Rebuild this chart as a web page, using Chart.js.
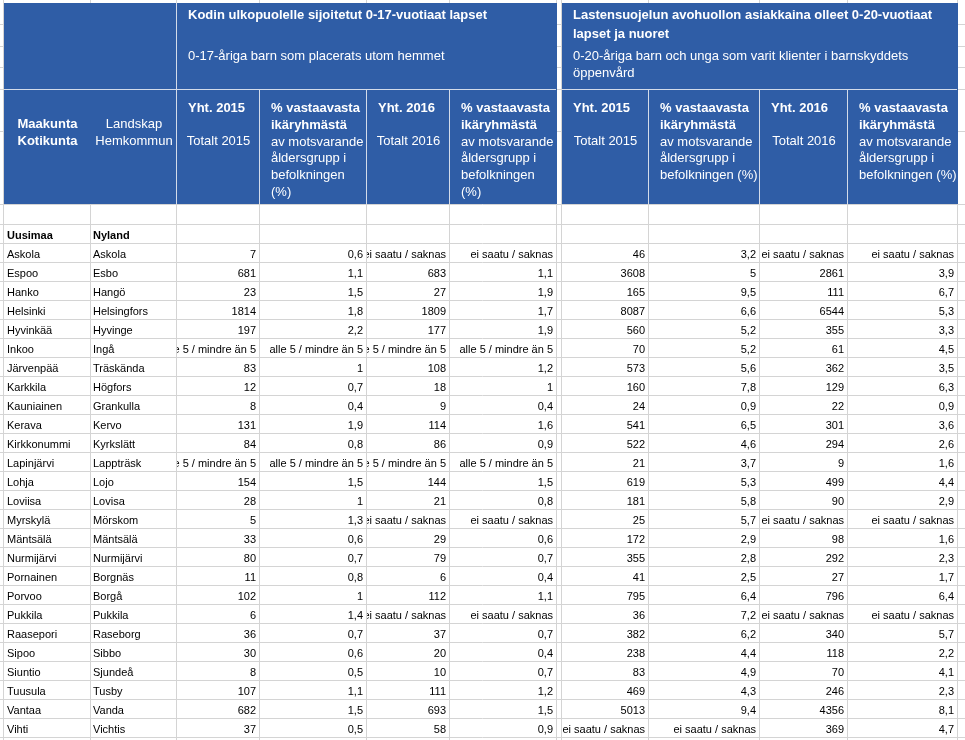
<!DOCTYPE html>
<html>
<head>
<meta charset="utf-8">
<title>Kodin ulkopuolelle sijoitetut ja avohuollon lapset - Uusimaa</title>
<script src="https://cdn.jsdelivr.net/npm/chart.js@4.4.1/dist/chart.umd.min.js"></script>
<style>
  body { margin: 0; background: #fff; overflow: hidden; }
  #wrap { width: 965px; height: 740px; }
</style>
</head>
<body>
<div id="wrap"><canvas id="sheet" width="965" height="740"></canvas></div>
<script>
var NA = "ei saatu / saknas";
var LT5 = "alle 5 / mindre än 5";

// region row
var maakunta = "Uusimaa";
var landskap = "Nyland";

// municipalities (fi / sv)
var kunnat = ["Askola","Espoo","Hanko","Helsinki","Hyvinkää","Inkoo","Järvenpää","Karkkila","Kauniainen","Kerava","Kirkkonummi","Lapinjärvi","Lohja","Loviisa","Myrskylä","Mäntsälä","Nurmijärvi","Pornainen","Porvoo","Pukkila","Raasepori","Sipoo","Siuntio","Tuusula","Vantaa","Vihti"];
var kommuner = ["Askola","Esbo","Hangö","Helsingfors","Hyvinge","Ingå","Träskända","Högfors","Grankulla","Kervo","Kyrkslätt","Lappträsk","Lojo","Lovisa","Mörskom","Mäntsälä","Nurmijärvi","Borgnäs","Borgå","Pukkila","Raseborg","Sibbo","Sjundeå","Tusby","Vanda","Vichtis"];

// placed outside home, 0-17
var sijoitetut2015 = [7,681,23,1814,197,LT5,83,12,8,131,84,LT5,154,28,5,33,80,11,102,6,36,30,8,107,682,37];
var sijoitetutPros2015 = [0.6,1.1,1.5,1.8,2.2,LT5,1,0.7,0.4,1.9,0.8,LT5,1.5,1,1.3,0.6,0.7,0.8,1,1.4,0.7,0.6,0.5,1.1,1.5,0.5];
var sijoitetut2016 = [NA,683,27,1809,177,LT5,108,18,9,114,86,LT5,144,21,NA,29,79,6,112,NA,37,20,10,111,693,58];
var sijoitetutPros2016 = [NA,1.1,1.9,1.7,1.9,LT5,1.2,1,0.4,1.6,0.9,LT5,1.5,0.8,NA,0.6,0.7,0.4,1.1,NA,0.7,0.4,0.7,1.2,1.5,0.9];

// open care clients, 0-20
var avohuolto2015 = [46,3608,165,8087,560,70,573,160,24,541,522,21,619,181,25,172,355,41,795,36,382,238,83,469,5013,NA];
var avohuoltoPros2015 = [3.2,5,9.5,6.6,5.2,5.2,5.6,7.8,0.9,6.5,4.6,3.7,5.3,5.8,5.7,2.9,2.8,2.5,6.4,7.2,6.2,4.4,4.9,4.3,9.4,NA];
var avohuolto2016 = [NA,2861,111,6544,355,61,362,129,22,301,294,9,499,90,NA,98,292,27,796,NA,340,118,70,246,4356,369];
var avohuoltoPros2016 = [NA,3.9,6.7,5.3,3.3,4.5,3.5,6.3,0.9,3.6,2.6,1.6,4.4,2.9,NA,1.6,2.3,1.7,6.4,NA,5.7,2.2,4.1,2.3,8.1,4.7];

// header texts
var otsikko1 = ["Kodin ulkopuolelle sijoitetut 0-17-vuotiaat lapset"];
var alaotsikko1 = ["0-17-åriga barn som placerats utom hemmet"];
var otsikko2 = ["Lastensuojelun avohuollon asiakkaina olleet 0-20-vuotiaat", "lapset ja nuoret"];
var alaotsikko2 = ["0-20-åriga barn och unga som varit klienter i barnskyddets", "öppenvård"];
var prosOtsikko1 = ["% vastaavasta", "ikäryhmästä", "av motsvarande", "åldersgrupp i", "befolkningen", "(%)"];
var prosOtsikko2 = ["% vastaavasta", "ikäryhmästä", "av motsvarande", "åldersgrupp i", "befolkningen (%)"];

// sheet layout (x / y in sheet units)
var colEdges = [3, 90, 176, 259, 366, 449, 556, 561, 648, 759, 847, 957];
var headTop = 3, headMid = 89, headBottom = 204, bodyTop = 224, rowH = 19;
var sideLines = [24, 46, 67, 89, 131, 204];

var BLUE = "#2F5DA6";
var GRID = "#D4D4D4";
var SEP = "#D3DBEA";
var FONT = "'Liberation Sans', Arial, sans-serif";

function fmt(v) {
  return typeof v === "number" ? String(v).replace(".", ",") : v;
}

var sheetPlugin = {
  id: "sheetTable",
  afterDraw: function(chart) {
    var ctx = chart.ctx;
    var sx = chart.scales.x, sy = chart.scales.y;
    function X(v) { return Math.round(sx.getPixelForValue(v)); }
    function Y(v) { return Math.round(sy.getPixelForValue(v)); }

    function hline(y, x0, x1, col) {
      ctx.strokeStyle = col; ctx.lineWidth = 1;
      ctx.beginPath(); ctx.moveTo(X(x0), Y(y) + 0.5); ctx.lineTo(X(x1), Y(y) + 0.5); ctx.stroke();
    }
    function vline(x, y0, y1, col) {
      ctx.strokeStyle = col; ctx.lineWidth = 1;
      ctx.beginPath(); ctx.moveTo(X(x) + 0.5, Y(y0)); ctx.lineTo(X(x) + 0.5, Y(y1)); ctx.stroke();
    }
    function text(str, c, baseY, align, font, color, pad) {
      var l = X(colEdges[c]), r = X(colEdges[c + 1]);
      ctx.save();
      ctx.beginPath(); ctx.rect(l + 1, Y(baseY) - 16, r - l - 1, 22); ctx.clip();
      ctx.font = font; ctx.fillStyle = color; ctx.textBaseline = "alphabetic";
      ctx.textAlign = align;
      var xx = align === "right" ? r - pad : align === "center" ? (l + r) / 2 + 1 : l + pad;
      ctx.fillText(str, xx, Y(baseY));
      ctx.restore();
    }
    function freeText(str, x, baseY, font, color) {
      ctx.font = font; ctx.fillStyle = color; ctx.textAlign = "left"; ctx.textBaseline = "alphabetic";
      ctx.fillText(str, X(x), Y(baseY));
    }

    ctx.save();
    ctx.fillStyle = "#fff";
    ctx.fillRect(0, 0, chart.width, chart.height);

    // body grid
    var nRows = kunnat.length + 1;
    var lastEdge = bodyTop + nRows * rowH;
    hline(headBottom, 0, 965, GRID);
    for (var k = 0; k <= nRows; k++) hline(bodyTop + k * rowH, 0, 965, GRID);
    colEdges.forEach(function(e) { vline(e, 0, 740, GRID); });
    sideLines.forEach(function(s) {
      hline(s, 0, colEdges[0], GRID);
      hline(s, colEdges[6], colEdges[7], GRID);
      hline(s, colEdges[11], 965, GRID);
    });

    // blue header blocks
    ctx.fillStyle = BLUE;
    ctx.fillRect(X(colEdges[0]) + 1, Y(headTop), X(colEdges[6]) - X(colEdges[0]), Y(headBottom) - Y(headTop));
    ctx.fillRect(X(colEdges[7]) + 1, Y(headTop), X(colEdges[11]) - X(colEdges[7]), Y(headBottom) - Y(headTop));

    // header separators
    hline(headMid, colEdges[0] + 1, colEdges[6], SEP);
    hline(headMid, colEdges[7] + 1, colEdges[11], SEP);
    vline(colEdges[2], headTop, headBottom, SEP);
    [3, 4, 5, 8, 9, 10].forEach(function(c) { vline(colEdges[c], headMid, headBottom, SEP); });

    var W = "#FFFFFF";
    var hb = "bold 13px " + FONT, hr = "13px " + FONT;

    // header row 1
    freeText(otsikko1[0], colEdges[2] + 12, 19, hb, W);
    freeText(alaotsikko1[0], colEdges[2] + 12, 60, hr, W);
    otsikko2.forEach(function(s, i) { freeText(s, colEdges[7] + 12, 19 + i * 19, hb, W); });
    alaotsikko2.forEach(function(s, i) { freeText(s, colEdges[7] + 12, 60 + i * 17, hr, W); });

    // header row 2
    text("Maakunta", 0, 128, "center", hb, W, 0);
    text("Kotikunta", 0, 145, "center", hb, W, 0);
    text("Landskap", 1, 128, "center", hr, W, 0);
    text("Hemkommun", 1, 145, "center", hr, W, 0);
    [[2, "2015"], [4, "2016"], [7, "2015"], [9, "2016"]].forEach(function(p) {
      freeText("Yht. " + p[1], colEdges[p[0]] + 12, 112, hb, W);
      text("Totalt " + p[1], p[0], 145, "center", hr, W, 0);
    });
    [[3, prosOtsikko1], [5, prosOtsikko1], [8, prosOtsikko2], [10, prosOtsikko2]].forEach(function(p) {
      p[1].forEach(function(s, i) {
        text(s, p[0], 112 + i * 16.8, "left", i < 2 ? hb : hr, W, 12);
      });
    });

    // body
    var bf = "11px " + FONT, bb = "bold 11px " + FONT, K = "#000";
    text(maakunta, 0, bodyTop + 15, "left", bb, K, 4);
    text(landskap, 1, bodyTop + 15, "left", bb, K, 3);
    var series = [sijoitetut2015, sijoitetutPros2015, sijoitetut2016, sijoitetutPros2016,
                  avohuolto2015, avohuoltoPros2015, avohuolto2016, avohuoltoPros2016];
    var seriesCols = [2, 3, 4, 5, 7, 8, 9, 10];
    kunnat.forEach(function(name, i) {
      var base = bodyTop + (i + 1) * rowH + 15;
      text(name, 0, base, "left", bf, K, 4);
      text(kommuner[i], 1, base, "left", bf, K, 3);
      series.forEach(function(s, j) {
        text(fmt(s[i]), seriesCols[j], base, "right", bf, K, 3);
      });
    });
    ctx.restore();
  }
};

new Chart(document.getElementById("sheet"), {
  type: "scatter",
  data: { datasets: [{ data: [] }] },
  options: {
    responsive: false,
    animation: false,
    layout: { padding: 0 },
    plugins: { legend: { display: false }, tooltip: { enabled: false } },
    scales: {
      x: { type: "linear", min: 0, max: 965, display: false },
      y: { type: "linear", min: 0, max: 740, reverse: true, display: false }
    }
  },
  plugins: [sheetPlugin]
});
</script>
</body>
</html>
